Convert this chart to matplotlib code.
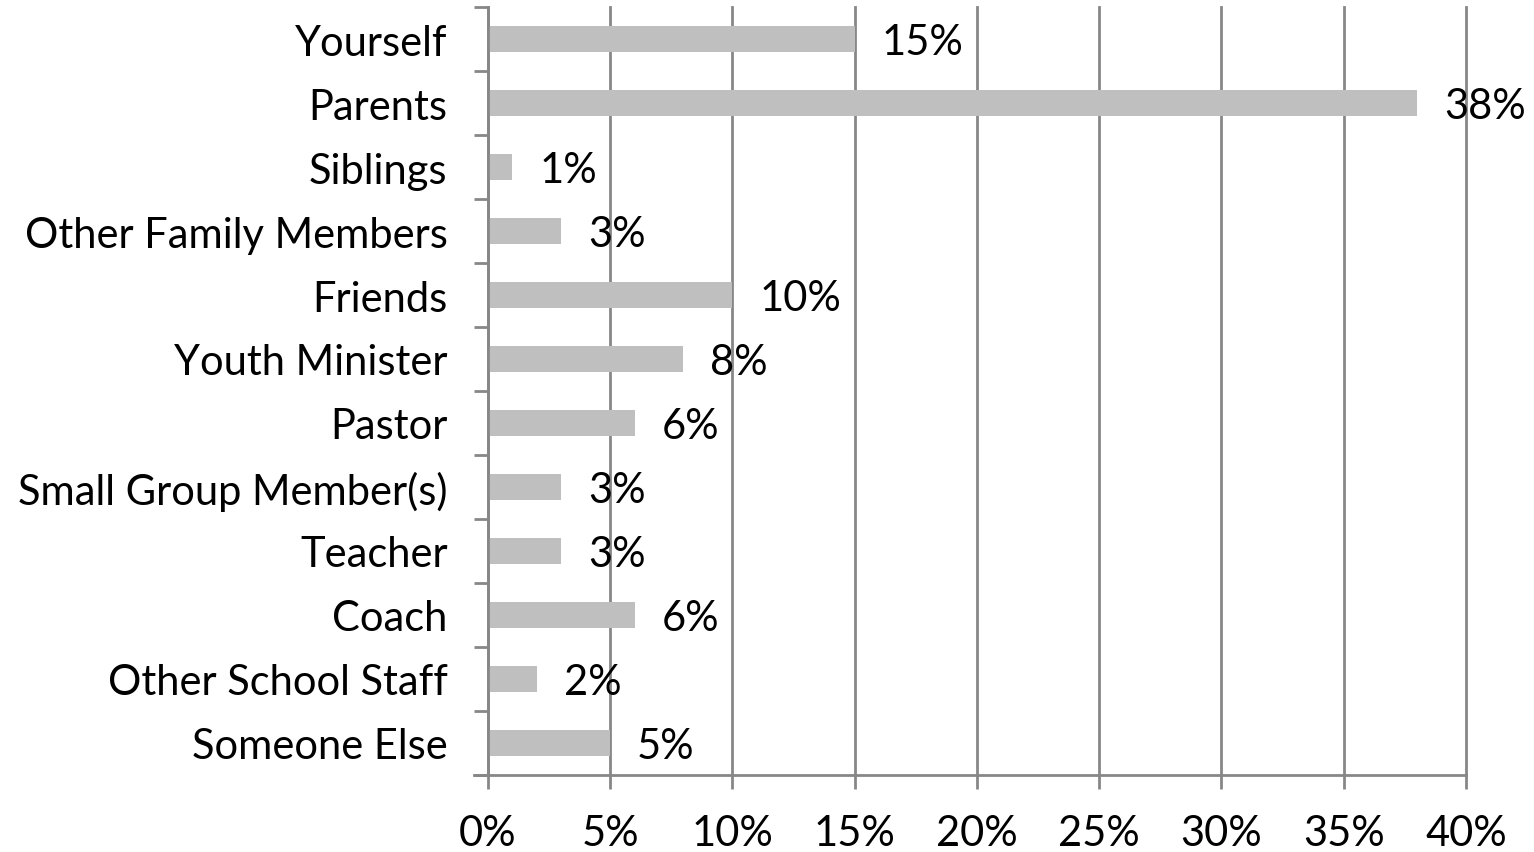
import matplotlib.pyplot as plt
from matplotlib.ticker import MultipleLocator, FuncFormatter

categories = ['Yourself', 'Parents', 'Siblings', 'Other Family Members', 'Friends',
              'Youth Minister', 'Pastor', 'Small Group Member(s)', 'Teacher', 'Coach',
              'Other School Staff', 'Someone Else']
values = [15, 38, 1, 3, 10, 8, 6, 3, 3, 6, 2, 5]

plt.rcParams['font.family'] = ['Lato', 'DejaVu Sans']
grid_col = '#878787'
fs = 30

fig = plt.figure(figsize=(15.34, 8.53), dpi=100)
ax = fig.add_axes([0.318, 0.0903, 0.6377, 0.9003])

y = list(range(len(categories)))
ax.barh(y, values, height=0.4, color='#bfbfbf', zorder=2)
for yi, v in zip(y, values):
    ax.text(v + 1.1, yi + 0.05, f'{v}%', va='center', ha='left', fontsize=fs, zorder=3)

ax.set_xlim(0, 40)
ax.set_ylim(len(categories) - 0.5, -0.5)
ax.xaxis.set_major_locator(MultipleLocator(5))
ax.xaxis.set_major_formatter(FuncFormatter(lambda x, p: f'{x:.0f}%'))
ax.grid(axis='x', color=grid_col, linewidth=2, zorder=1)
for gl in ax.get_xgridlines():
    gl.set_clip_on(False)

# category labels in the middle, tick marks on the boundaries
ax.set_yticks(y)
ax.set_yticklabels(categories, fontsize=fs)
ax.set_yticks([i - 0.5 for i in range(len(categories) + 1)], minor=True)
ax.tick_params(axis='y', which='major', length=0, pad=29)
ax.tick_params(axis='y', which='minor', length=10, width=2, color=grid_col)
ax.tick_params(axis='x', length=10, width=2, color=grid_col, labelsize=fs, pad=18)

for s in ['top', 'right']:
    ax.spines[s].set_visible(False)
for s in ['left', 'bottom']:
    ax.spines[s].set_color(grid_col)
    ax.spines[s].set_linewidth(2)
ax.spines['bottom'].set_bounds(-0.55, 40)

fig.savefig('out.png', dpi=100)
